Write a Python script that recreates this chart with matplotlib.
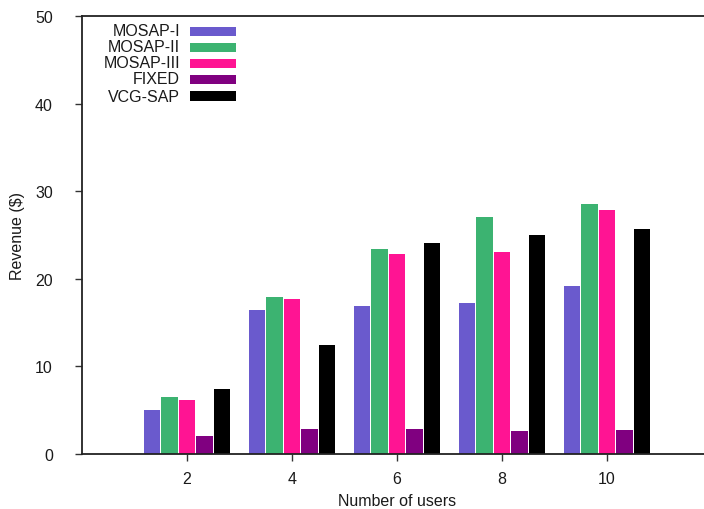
import matplotlib
matplotlib.use("Agg")
import matplotlib.pyplot as plt
from matplotlib.patches import Rectangle
import numpy as np

plt.rcParams['font.family'] = ['Liberation Sans', 'DejaVu Sans']

users = [2, 4, 6, 8, 10]
series_names = ["MOSAP-I", "MOSAP-II", "MOSAP-III", "FIXED", "VCG-SAP"]
mosap1 = [5.0, 16.4, 16.9, 17.2, 19.2]
mosap2 = [6.5, 17.9, 23.4, 27.0, 28.5]
mosap3 = [6.2, 17.7, 22.8, 23.1, 27.85]
fixed = [2.05, 2.85, 2.85, 2.6, 2.7]
vcg = [7.4, 12.4, 24.1, 25.0, 25.7]
colors = ["#6A5ACD", "#3CB371", "#FF1493", "#800080", "#000000"]
yticks = [0, 10, 20, 30, 40, 50]

series = [mosap1, mosap2, mosap3, fixed, vcg]

fig = plt.figure(figsize=(7.04, 5.10), dpi=100)
ax_w_px = 700
ax_h_px = 438
ax = fig.add_axes([82/704, (510-455)/510, ax_w_px/704, ax_h_px/510])

step = 1/3
width = 0.305
x = np.array(users, dtype=float)
for i, (vals, c) in enumerate(zip(series, colors)):
    ax.bar(x + (i - 2) * step, vals, width=width, color=c, linewidth=0)

ax.set_xlim(0, ax_w_px / 52.5)
ax.set_ylim(0, 50)
ax.set_xticks(users)
ax.set_xticklabels([str(u) for u in users])
ax.set_yticks(yticks)

for s in ['top', 'bottom', 'left']:
    ax.spines[s].set_color('#222222')
    ax.spines[s].set_linewidth(1.3)
ax.spines['right'].set_visible(False)
ax.tick_params(axis='both', direction='out', length=5, width=1.0, color='#333333',
               labelsize=11.5, labelcolor='#1a1a1a')
ax.tick_params(axis='x', pad=7)
ax.tick_params(axis='y', pad=16)

ax.set_xlabel("Number of users", fontsize=11.5, color='#1a1a1a', va='center')
ax.xaxis.set_label_coords((397 - 82) / ax_w_px, -(502 - 455) / ax_h_px)
ax.set_ylabel("Revenue ($)", fontsize=11.5, color='#1a1a1a', va='center')
ax.yaxis.set_label_coords(-(82 - 18) / ax_w_px, (455 - 236) / ax_h_px)

# manual legend (gnuplot style: right-aligned text, key bar to the right)
row_y = [32, 48, 64, 80, 97]
for name, c, ry in zip(series_names, colors, row_y):
    fig.text(180/704, 1 - ry/510, name, ha='right', va='center', fontsize=11.5, color='#1a1a1a')
    fig.patches.append(Rectangle((190/704, 1 - (ry + 4.5)/510), 46/704, 9/510,
                                 transform=fig.transFigure, facecolor=c, edgecolor='none'))

fig.savefig("out.png", dpi=100)
